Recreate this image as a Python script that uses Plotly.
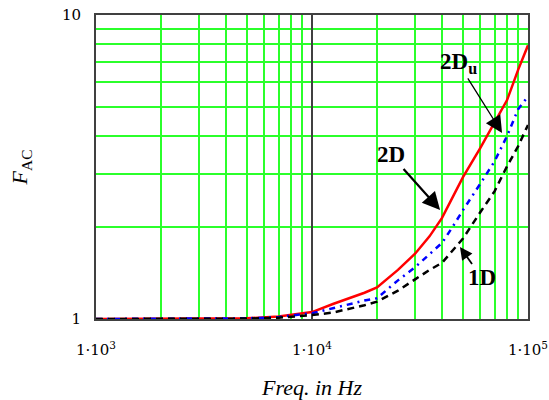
import plotly.graph_objects as go

freq = [1000, 2000, 3000, 5000, 7000, 10000, 12500, 15000, 17500, 20000,
        25000, 30000, 35000, 40000, 45000, 50000, 60000, 70000, 80000, 90000, 100000]
fac_2d = [1.0, 1.0, 1.0, 1.005, 1.02, 1.054, 1.12, 1.17, 1.22, 1.27,
          1.45, 1.64, 1.87, 2.15, 2.53, 2.93, 3.64, 4.42, 5.25, 6.6, 7.95]
fac_2du = [1.0, 1.0, 1.0, 1.005, 1.015, 1.045, 1.085, 1.12, 1.15, 1.17,
           1.34, 1.48, 1.63, 1.78, 2.02, 2.28, 2.78, 3.3, 4.0, 4.9, 5.4]
fac_1d = [1.0, 1.0, 1.0, 1.003, 1.01, 1.03, 1.05, 1.08, 1.11, 1.14,
          1.24, 1.35, 1.45, 1.53, 1.69, 1.84, 2.24, 2.63, 3.18, 3.7, 4.35]

x_major = [1e3, 1e4, 1e5]
x_major_text = ["1\u00b710<sup>3</sup>", "1\u00b710<sup>4</sup>", "1\u00b710<sup>5</sup>"]
x_minor = [m * 10 ** e for e in (3, 4) for m in range(2, 10)]
y_major = [1, 10]
y_major_text = ["1", "10"]
y_minor = list(range(2, 10))

GREEN = "#2bff2b"
FRAME = "#404040"
serif = "Liberation Serif"

fig = go.Figure()
fig.add_trace(go.Scatter(x=freq, y=fac_2d, mode="lines",
                         line=dict(color="#ff0000", width=2.5), name="2D"))
fig.add_trace(go.Scatter(x=freq, y=fac_2du, mode="lines",
                         line=dict(color="#0000ff", width=2.5, dash="6px,5px,2px,5px"), name="2Du"))
fig.add_trace(go.Scatter(x=freq, y=fac_1d, mode="lines",
                         line=dict(color="#000000", width=2.5, dash="7px,5px"), name="1D"))

ann_font = dict(family=serif, size=23, color="black")
fig.add_annotation(x=4.593, y=0.3586, xref="x", yref="y", text="<b>2D</b>",
                   showarrow=True, ax=-49, ay=-55, arrowhead=2, arrowsize=1.6,
                   arrowwidth=2.2, arrowcolor="black", font=ann_font)
fig.add_annotation(x=4.880, y=0.612, xref="x", yref="y", text="<b>2D<sub>u</sub></b>",
                   showarrow=True, ax=-44, ay=-70, arrowhead=2, arrowsize=2.6,
                   arrowwidth=1.3, arrowcolor="black", font=ann_font)
fig.add_annotation(x=4.685, y=0.237, xref="x", yref="y", text="<b>1D</b>",
                   showarrow=True, ax=22, ay=31, arrowhead=2, arrowsize=1.4,
                   arrowwidth=1.8, arrowcolor="black", font=ann_font)

fig.update_layout(
    width=549, height=400,
    margin=dict(l=96, r=21, t=15, b=81),
    paper_bgcolor="white", plot_bgcolor="white",
    showlegend=False,
    font=dict(family="DejaVu Serif", size=14, color="black"),
    xaxis=dict(
        type="log", range=[3, 5], automargin=False,
        tickmode="array", tickvals=x_major, ticktext=x_major_text,
        showgrid=True, gridcolor=FRAME, gridwidth=1.5,
        showline=True, linecolor=FRAME, linewidth=2, mirror=True,
        ticks="", zeroline=False, ticklabelstandoff=16,
        tickfont=dict(family="DejaVu Serif", size=15),
        minor=dict(tickmode="array", tickvals=x_minor, showgrid=True,
                   gridcolor=GREEN, gridwidth=1.5, ticks=""),
        title=dict(text="<i>Freq. in Hz</i>", font=dict(family=serif, size=22), standoff=22),
    ),
    yaxis=dict(
        type="log", range=[0, 1], automargin=False,
        tickmode="array", tickvals=y_major, ticktext=y_major_text,
        showgrid=True, gridcolor=FRAME, gridwidth=1.5,
        showline=True, linecolor=FRAME, linewidth=2, mirror=True,
        ticks="", zeroline=False, ticklabelstandoff=10,
        tickfont=dict(family="DejaVu Serif", size=15),
        minor=dict(tickmode="array", tickvals=y_minor, showgrid=True,
                   gridcolor=GREEN, gridwidth=1.5, ticks=""),
        title=dict(text="<i>F</i><sub>AC</sub>", font=dict(family=serif, size=22), standoff=28),
    ),
)

fig.write_html("out.html", config={"displayModeBar": False},
               post_script="document.body.style.margin='0px';document.body.style.overflow='hidden';")
